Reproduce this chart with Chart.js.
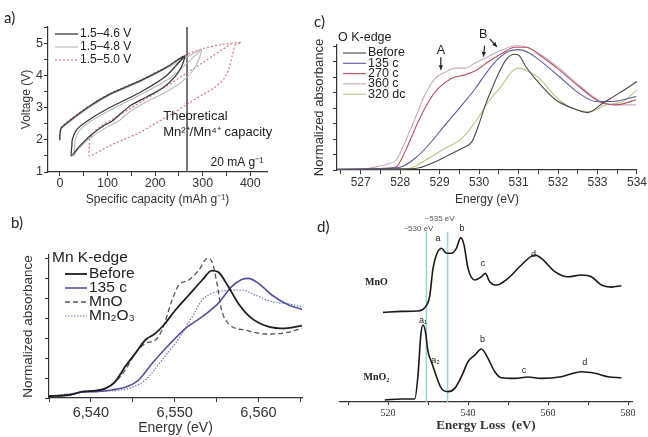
<!DOCTYPE html>
<html>
<head>
<meta charset="utf-8">
<script src="https://cdn.jsdelivr.net/npm/chart.js@4.4.1/dist/chart.umd.min.js"></script>
<style>
  html, body { margin: 0; padding: 0; background: #fff; }
  #page { position: relative; width: 648px; height: 437px; overflow: hidden; background: #fff; }
  canvas { position: absolute; }
  .tag { position: absolute; font-family: Lato, "Liberation Sans", sans-serif; font-size: 15px; line-height: 15px; color: #222; }
</style>
</head>
<body>
<div id="page">
  <canvas id="chartA" width="300" height="210" style="left:0px;top:0px"></canvas>
  <canvas id="chartC" width="343" height="210" style="left:305px;top:0px"></canvas>
  <canvas id="chartB" width="318" height="232" style="left:0px;top:205px"></canvas>
  <canvas id="chartD" width="318" height="232" style="left:330px;top:205px"></canvas>
  <div class="tag" style="left:4px;top:10px">a)</div>
  <div class="tag" style="left:11px;top:215px">b)</div>
  <div class="tag" style="left:314px;top:14px">c)</div>
  <div class="tag" style="left:317px;top:219px">d)</div>
</div>
<script>
const SANS = '"Liberation Sans", Arial, sans-serif';
const SERIF = '"Liberation Serif", "Times New Roman", serif';

/* =========================
   a) VOLTAGE PROFILES  [capacity mAh/g, voltage V]
   first charge -> discharge -> second charge
========================= */

const loop46 = [[0,2.0],[0,2.15],[3,2.37],[24,2.63],[62,3.04],[104,3.41],[167,3.82],[223,4.24],[262,4.6],
  [255,4.25],[240,3.93],[215,3.6],[185,3.35],[150,3.08],[125,2.78],[110,2.58],[90,2.42],[62,2.1],[40,1.78],[24,1.5],
  [25,1.8],[26,2.0],[35,2.31],[56,2.57],[97,2.94],[167,3.46],[223,3.98],[262,4.6]];

const loop48 = [[0,1.95],[0,2.12],[3,2.34],[24,2.6],[62,3.0],[104,3.38],[167,3.79],[223,4.22],[262,4.52],[297,4.8],
  [292,4.5],[278,4.12],[252,3.75],[215,3.42],[178,3.15],[145,2.85],[125,2.6],[100,2.4],[70,2.12],[48,1.85],[33,1.6],[30,1.5],
  [31,1.8],[32,2.0],[41,2.28],[62,2.55],[100,2.88],[167,3.38],[235,3.95],[297,4.8]];

const loop50 = [[0,2.0],[0,2.18],[3,2.4],[24,2.66],[62,3.06],[104,3.43],[167,3.84],[223,4.26],[262,4.62],[300,4.83],[340,4.96],[381,5.02],
  [368,4.93],[362,4.6],[355,4.2],[345,3.9],[325,3.62],[300,3.4],[272,3.15],[240,2.85],[202,2.52],[165,2.2],[132,2.0],[100,1.78],[62,1.5],
  [62,1.8],[62,2.0],[76,2.31],[132,2.83],[202,3.46],[280,4.2],[360,4.98]];

const theoCapacity = 267;
const capRange = [-25, 435];
const voltRange = [1, 5.5];

/* =========================
   c) O K-EDGE  [energy eV, normalized absorbance]
========================= */

const okBefore = [[526.4,0.05],[527.3,0.05],[527.9,0.08],[528.38,0.1],[528.89,0.54],[529.23,0.97],[529.57,1.41],[529.82,1.84],
  [529.99,2.92],[530.16,4.22],[530.33,5.3],[530.5,6.3],[530.7,7.2],[530.9,7.5],[531.0,7.45],[531.18,6.71],[531.52,5.63],
  [531.94,4.55],[532.37,4.0],[532.75,3.72],[533.13,4.33],[533.55,4.98],[534.0,5.73]];

const ok135 = [[526.4,0.05],[527.3,0.08],[527.8,0.12],[528.04,0.21],[528.38,0.76],[528.72,1.62],[529.14,2.92],[529.57,4.22],
  [529.91,5.3],[530.24,6.49],[530.5,7.25],[530.75,7.7],[531.0,7.8],[531.26,7.6],[531.52,7.14],[532.03,6.06],[532.53,4.98],
  [532.96,4.44],[533.38,4.44],[533.98,4.76]];

const ok270 = [[526.4,0],[527.0,0.05],[527.5,0.1],[527.9,0.2],[528.05,0.8],[528.2,1.62],[528.46,3.14],[528.72,4.44],[528.97,5.3],
  [529.31,5.95],[529.65,6.17],[529.95,6.49],[530.24,7.03],[530.59,7.57],[530.9,7.95],[531.2,7.95],[531.52,7.47],[532.03,6.49],
  [532.53,5.41],[533.04,4.44],[533.47,4.22],[533.98,4.55]];

const ok360 = [[526.4,0],[527.0,0.05],[527.4,0.2],[527.7,0.4],[527.9,0.65],[528.13,1.84],[528.38,3.35],[528.63,4.87],[528.89,5.95],
  [529.1,6.28],[529.4,6.6],[529.65,6.6],[529.9,6.93],[530.24,7.36],[530.59,7.79],[530.92,8.05],[531.15,8.0],[531.52,7.55],
  [532.03,6.6],[532.53,5.5],[533.04,4.5],[533.47,4.22],[533.98,4.22]];

const ok320 = [[526.4,0.05],[527.5,0.08],[528.2,0.1],[528.72,0.76],[529.14,1.41],[529.57,2.06],[529.91,3.14],[530.24,4.44],
  [530.59,5.52],[530.8,6.3],[531.0,6.6],[531.2,6.45],[531.52,5.95],[531.94,4.76],[532.37,4.0],[532.79,3.79],[533.21,4.22],
  [533.64,4.44],[534.0,5.19]];

const okRange = [526.4, 534];
const okAbsRange = [0, 8.1];

/* =========================
   b) Mn K-EDGE  [energy eV, normalized absorbance]
========================= */

const mnBefore = [[6535,0.1],[6537.4,0.15],[6539,0.32],[6540.6,0.37],[6541.75,0.48],[6542.9,0.82],[6544.1,1.57],[6545.3,2.23],
  [6546.5,2.9],[6547.7,3.23],[6548.7,3.65],[6550.1,4.4],[6551.7,5.15],[6553.3,5.9],[6554.45,6.37],[6555.2,6.3],[6556.4,5.57],
  [6557.6,4.73],[6559.2,3.98],[6561.2,3.57],[6563.2,3.48],[6565.2,3.62]];

const mn135 = [[6535,0.1],[6537.4,0.15],[6539,0.3],[6540.6,0.32],[6542.5,0.4],[6544.5,0.6],[6545.7,0.9],[6547.3,1.73],[6549.3,2.65],
  [6551.3,3.48],[6553.3,4.07],[6555.2,4.73],[6556.8,5.57],[6558.0,5.93],[6558.8,5.98],[6560.0,5.73],[6561.6,5.15],[6563.6,4.65],[6565.2,4.43]];

const mnMnO = [[6535,0.1],[6537.4,0.15],[6539,0.32],[6540.6,0.37],[6541.75,0.48],[6542.9,0.8],[6544.1,1.4],[6545.3,2.23],[6546.5,2.73],
  [6547.7,2.9],[6548.5,3.4],[6549.7,4.9],[6550.5,5.65],[6551.7,5.9],[6552.9,6.4],[6553.9,6.98],[6554.45,6.82],[6555.05,5.73],
  [6555.6,4.4],[6556.6,3.65],[6558.4,3.4],[6560.8,3.2],[6562.8,3.23],[6565.2,3.48]];

const mnMn2O3 = [[6535,0.1],[6539,0.28],[6541,0.33],[6543,0.38],[6544.5,0.48],[6546.5,0.9],[6548.5,1.9],[6550.5,2.98],[6552.1,4.07],
  [6553.3,4.9],[6554.45,5.23],[6556.0,5.37],[6558.0,5.4],[6559.6,5.15],[6561.6,4.82],[6563.6,4.7],[6565.2,4.57]];

const mnRange = [6535, 6565.2];
const mnAbsRange = [0, 7.15];

/* =========================
   d) EELS O K-EDGE  [energy loss eV, intensity a.u. (offset)]
========================= */

const eelsMnO = [[518.75,52.7],[523.35,53.3],[527.5,53.5],[529.2,55.5],[530.4,61.9],[531.25,78.6],[532.1,86.5],[533.35,90.4],
  [534.6,87.5],[535.85,87.5],[537.1,90.4],[538.2,96.7],[539.0,92.4],[540.0,78.6],[541.7,71.8],[543.35,73.7],[544.35,75.7],
  [545.4,70.8],[547.1,68.8],[550.0,72.7],[553.35,80.6],[556.7,86.5],[558.35,84.5],[561.7,76.7],[565.0,73.7],[568.35,74.7],
  [570.85,73.7],[573.35,68.8],[575.85,67.6],[578.35,68.4]];

const eelsMnO2 = [[519.2,1.2],[523.35,1.8],[526.7,1.8],[527.5,15.9],[528.2,39.4],[528.75,45.3],[529.35,41.4],[530.0,29.6],
  [530.85,23.7],[531.7,17.8],[533.35,8.0],[535.0,6.1],[536.7,8.0],[538.35,14.9],[540.0,23.7],[541.7,27.6],[543.35,31.2],
  [545.0,25.7],[546.7,17.8],[548.35,14.3],[551.7,13.9],[555.0,14.7],[558.35,13.9],[563.35,14.9],[568.35,17.8],[571.7,16.9],
  [575.0,14.9],[578.35,14.3]];

const eelsMarks = [529.6, 534.9];
const eelsMarkTop = 100;
const eelsRange = [508, 581];
const eelsYRange = [0, 110];

/* =========================
   HELPERS
========================= */

function toPoints(pairs){
    return pairs.map(p => ({ x: p[0], y: p[1] }));
}

function series(pairs, color, width, dash, label, smooth){
    return {
        label: label,
        data: toPoints(pairs),
        showLine: true,
        borderColor: color,
        backgroundColor: color,
        borderWidth: width,
        borderDash: dash,
        pointRadius: 0,
        pointHoverRadius: 0,
        fill: false,
        tension: smooth ? 0.4 : 0.2,
        cubicInterpolationMode: smooth ? 'monotone' : 'default'
    };
}

function makeAxis(o){
    return {
        type: 'linear',
        display: o.display === false ? false : true,
        min: o.min,
        max: o.max,
        afterFit: scale => {
            if(o.width !== undefined){ scale.width = o.width; }
            if(o.height !== undefined){ scale.height = o.height; }
        },
        border: { display: true, color: '#333', width: 1.2 },
        grid: { drawOnChartArea: false, drawTicks: true, tickLength: o.tickLength || 4, color: '#333', lineWidth: 1 },
        ticks: {
            stepSize: o.step,
            includeBounds: false,
            autoSkip: false,
            maxRotation: 0,
            padding: o.labelPad || 0,
            color: '#333',
            font: { family: o.family || SANS, size: o.size || 12 },
            callback: o.label
        },
        title: o.title ? {
            display: true,
            text: o.title,
            color: '#333',
            font: { family: o.titleFamily || SANS, size: o.titleSize || 12, weight: o.titleWeight || 'normal' },
            padding: o.titlePad
        } : { display: false }
    };
}

// legend drawn inside the plot, like the original figures
function insideLegend(cfg){
    return {
        id: 'insideLegend',
        afterDraw(chart){
            const ctx = chart.ctx;
            ctx.save();
            ctx.font = cfg.font;
            ctx.fillStyle = '#222';
            ctx.textBaseline = 'middle';
            ctx.textAlign = 'left';
            if(cfg.heading){
                ctx.fillText(cfg.heading, cfg.headX, cfg.headY);
            }
            let y = cfg.y;
            chart.data.datasets.forEach(ds => {
                if(!ds.label){ return; }
                ctx.strokeStyle = ds.borderColor;
                ctx.lineWidth = ds.borderWidth;
                ctx.setLineDash(ds.borderDash || []);
                ctx.beginPath();
                ctx.moveTo(cfg.x, y);
                ctx.lineTo(cfg.x + cfg.len, y);
                ctx.stroke();
                ctx.setLineDash([]);
                ctx.fillText(ds.label, cfg.x + cfg.len + cfg.gap, y);
                y += cfg.rowH;
            });
            ctx.restore();
        }
    };
}

// text labels and arrows placed in data units
function notes(items){
    return {
        id: 'notes',
        afterDraw(chart){
            const ctx = chart.ctx;
            const xs = chart.scales.x;
            const ys = chart.scales.y;
            ctx.save();
            items.forEach(it => {
                const px = xs.getPixelForValue(it.x);
                const py = ys.getPixelForValue(it.y);
                if(it.to){
                    const tx = xs.getPixelForValue(it.to[0]);
                    const ty = ys.getPixelForValue(it.to[1]);
                    const a = Math.atan2(ty - py, tx - px);
                    ctx.strokeStyle = '#222';
                    ctx.fillStyle = '#222';
                    ctx.lineWidth = 1.2;
                    ctx.beginPath();
                    ctx.moveTo(px, py);
                    ctx.lineTo(tx, ty);
                    ctx.stroke();
                    ctx.beginPath();
                    ctx.moveTo(tx, ty);
                    ctx.lineTo(tx - 5 * Math.cos(a - 0.45), ty - 5 * Math.sin(a - 0.45));
                    ctx.lineTo(tx - 5 * Math.cos(a + 0.45), ty - 5 * Math.sin(a + 0.45));
                    ctx.closePath();
                    ctx.fill();
                }else{
                    ctx.font = it.font;
                    ctx.fillStyle = it.color || '#222';
                    ctx.textAlign = it.align || 'center';
                    ctx.textBaseline = 'middle';
                    ctx.fillText(it.text, px, py);
                }
            });
            ctx.restore();
        }
    };
}

const baseOptions = {
    animation: false,
    responsive: false,
    events: [],
    plugins: { legend: { display: false }, tooltip: { enabled: false } }
};

/* =========================
   a) CHART
========================= */

new Chart(document.getElementById('chartA'), {
    type: 'scatter',
    data: {
        datasets: [
            series(loop46, '#3a3a3a', 1.3, [], '1.5–4.6 V', false),
            series(loop48, '#b8b8b8', 1.1, [], '1.5–4.8 V', false),
            series(loop50, '#dc7482', 1.2, [2, 2], '1.5–5.0 V', false),
            series([[theoCapacity, voltRange[0]], [theoCapacity, voltRange[1]]], '#555', 1.6, [], '', false)
        ]
    },
    options: Object.assign({}, baseOptions, {
        layout: { padding: { left: 0, top: 27, right: 33, bottom: 0 } },
        scales: {
            x: makeAxis({
                min: capRange[0], max: capRange[1], step: 50, height: 38, size: 12.5, labelPad: 0,
                label: v => (v % 100 === 0 ? String(v) : ''),
                title: 'Specific capacity (mAh g⁻¹)', titleSize: 12, titlePad: { top: 0, bottom: 3 }
            }),
            y: makeAxis({
                min: voltRange[0], max: voltRange[1], step: 0.5, width: 48, size: 12.5, labelPad: 1,
                label: v => (Number.isInteger(v) ? String(v) : ''),
                title: 'Voltage (V)', titleSize: 12, titlePad: { top: 19, bottom: 0 }
            })
        }
    }),
    plugins: [
        insideLegend({ x: 55, y: 34, rowH: 13, len: 23, gap: 2, font: '12px ' + SANS }),
        notes([
            { text: 'Theoretical', x: 217, y: 2.72, align: 'left', font: '13px ' + SANS },
            { text: 'Mn²⁺/Mn⁴⁺ capacity', x: 217, y: 2.22, align: 'left', font: '13px ' + SANS },
            { text: '20 mA g⁻¹', x: 427, y: 1.28, align: 'right', font: '12px ' + SANS }
        ])
    ]
});

/* =========================
   c) CHART
========================= */

new Chart(document.getElementById('chartC'), {
    type: 'scatter',
    data: {
        datasets: [
            series(okBefore, '#4a4a4a', 1.1, [], 'Before', true),
            series(ok135, '#5c5c9c', 1.1, [], '135 c', true),
            series(ok270, '#b8525f', 1.1, [], '270 c', true),
            series(ok360, '#c9a9c2', 1.1, [], '360 c', true),
            series(ok320, '#bac284', 1.1, [], '320 dc', true)
        ]
    },
    options: Object.assign({}, baseOptions, {
        layout: { padding: { left: 0, top: 45, right: 11, bottom: 0 } },
        scales: {
            x: makeAxis({
                min: okRange[0], max: okRange[1], step: 0.5, height: 40, size: 12, labelPad: 1,
                label: v => (Number.isInteger(v) ? String(v) : ''),
                title: 'Energy (eV)', titleSize: 12, titlePad: { top: 0, bottom: 3 }
            }),
            y: makeAxis({
                min: okAbsRange[0], max: okAbsRange[1], step: 1, width: 32, size: 12,
                label: () => '',
                title: 'Normalized absorbance', titleSize: 13, titlePad: { top: 7, bottom: 0 }
            })
        }
    }),
    plugins: [
        insideLegend({ x: 38, y: 53, rowH: 10.3, len: 23, gap: 2, font: '12.5px ' + SANS,
            heading: 'O K-edge', headX: 33, headY: 38 }),
        notes([
            { text: 'A', x: 529.03, y: 7.75, font: '12.5px ' + SANS },
            { x: 529.03, y: 7.3, to: [529.03, 6.5] },
            { text: 'B', x: 530.1, y: 8.8, font: '12.5px ' + SANS },
            { x: 530.14, y: 8.05, to: [530.11, 7.35] },
            { x: 530.27, y: 8.5, to: [530.45, 7.98] }
        ])
    ]
});

/* =========================
   b) CHART
========================= */

new Chart(document.getElementById('chartB'), {
    type: 'scatter',
    data: {
        datasets: [
            series(mnBefore, '#1e1e1e', 1.8, [], 'Before', true),
            series(mn135, '#52529a', 1.6, [], '135 c', true),
            series(mnMnO, '#555', 1.3, [5, 3], 'MnO', true),
            series(mnMn2O3, '#7474b4', 1.2, [1.5, 1.5], 'Mn₂O₃', true)
        ]
    },
    options: Object.assign({}, baseOptions, {
        layout: { padding: { left: 0, top: 50, right: 16, bottom: 0 } },
        scales: {
            x: makeAxis({
                min: mnRange[0], max: mnRange[1], step: 5, height: 39, size: 14.5, labelPad: 2,
                label: v => (v % 10 === 0 ? v.toLocaleString('en-US') : ''),
                title: 'Energy (eV)', titleSize: 14, titlePad: { top: 0, bottom: 0 }
            }),
            y: makeAxis({
                min: mnAbsRange[0], max: mnAbsRange[1], step: 1, width: 49, size: 12,
                label: () => '',
                title: 'Normalized absorbance', titleSize: 13.5, titlePad: { top: 20, bottom: 0 }
            })
        }
    }),
    plugins: [
        insideLegend({ x: 65, y: 69, rowH: 14, len: 22, gap: 2, font: '15.5px ' + SANS,
            heading: 'Mn K-edge', headX: 52, headY: 53 })
    ]
});

/* =========================
   d) CHART
========================= */

new Chart(document.getElementById('chartD'), {
    type: 'scatter',
    data: {
        datasets: [
            series(eelsMnO, '#1a1a1a', 1.6, [], '', true),
            series(eelsMnO2, '#1a1a1a', 1.6, [], '', true)
        ].concat(eelsMarks.map(e => series([[e, 0], [e, eelsMarkTop]], '#9fd0e0', 1.5, [], '', false)))
    },
    options: Object.assign({}, baseOptions, {
        layout: { padding: { left: 10, top: 10, right: 16, bottom: 0 } },
        scales: {
            x: makeAxis({
                min: eelsRange[0], max: eelsRange[1], step: 10, height: 35, size: 10, family: SERIF,
                tickLength: 3, labelPad: 2,
                label: v => (v % 20 === 0 ? String(v) : ''),
                title: 'Energy Loss  (eV)', titleSize: 13, titleFamily: SERIF, titleWeight: 'bold',
                titlePad: { top: 0, bottom: 4 }
            }),
            y: makeAxis({ display: false, min: eelsYRange[0], max: eelsYRange[1], step: 10 })
        }
    }),
    plugins: [
        notes([
            { text: '~535 eV', x: 532.9, y: 107.6, font: '8px ' + SANS, color: '#555' },
            { text: '~530 eV', x: 527.6, y: 101.6, font: '8px ' + SANS, color: '#555' },
            { text: 'a', x: 532.5, y: 96.3, font: '9px ' + SANS },
            { text: 'b', x: 538.5, y: 101.8, font: '9px ' + SANS },
            { text: 'c', x: 543.75, y: 81.2, font: '9px ' + SANS },
            { text: 'd', x: 556.4, y: 86.9, font: '9px ' + SANS },
            { text: 'MnO', x: 517.1, y: 70.2, font: 'bold 10px ' + SERIF },
            { text: 'a₁', x: 528.75, y: 48.2, font: '9px ' + SANS },
            { text: 'a₂', x: 531.9, y: 24.3, font: '9px ' + SANS },
            { text: 'b', x: 543.6, y: 36.5, font: '9px ' + SANS },
            { text: 'c', x: 554, y: 18.8, font: '9px ' + SANS },
            { text: 'd', x: 569.2, y: 23.4, font: '9px ' + SANS },
            { text: 'MnO₂', x: 517.1, y: 14.5, font: 'bold 10px ' + SERIF }
        ])
    ]
});
</script>
</body>
</html>
